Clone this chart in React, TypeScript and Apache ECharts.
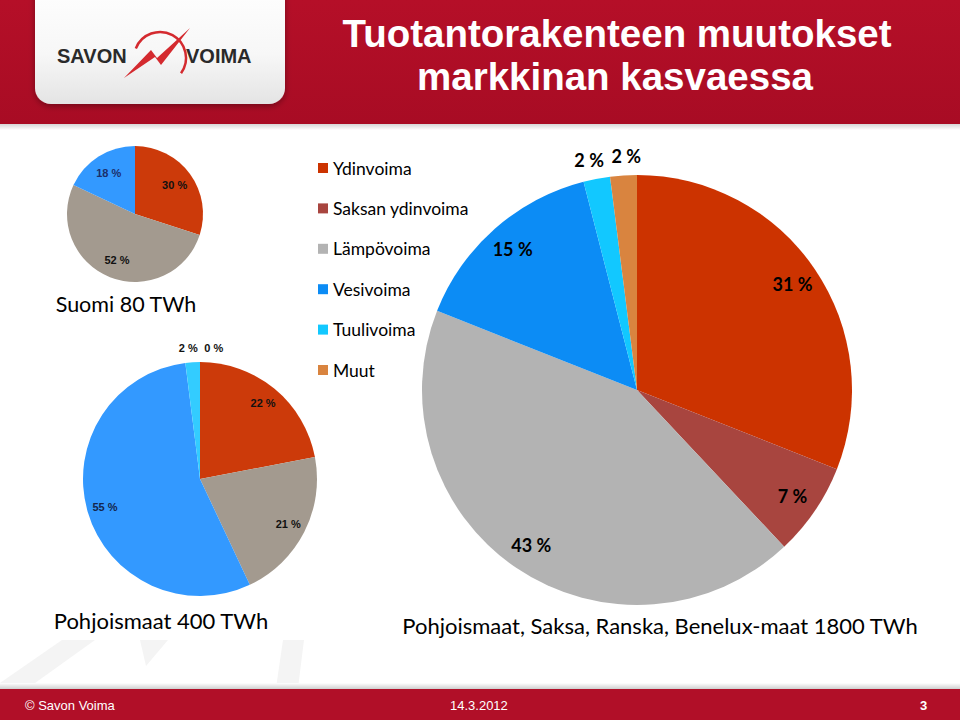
import React, { useEffect, useRef } from "react";
import * as echarts from "echarts";

// ---- data ----
const categories = ["Ydinvoima", "Saksan ydinvoima", "Lämpövoima", "Vesivoima", "Tuulivoima", "Muut"];
const bigValues = [31, 7, 43, 15, 2, 2];
const bigColors = ["#cc3300", "#a8453f", "#b3b3b3", "#0c8cf5", "#12c8ff", "#d9843f"];

const suomiCategories = ["Ydinvoima", "Lämpövoima", "Vesivoima"];
const suomiValues = [30, 52, 18];
const suomiColors = ["#cc3a0a", "#a39a8f", "#3399ff"];

const nordicCategories = ["Ydinvoima", "Lämpövoima", "Vesivoima", "Tuulivoima", "Muut"];
const nordicValues = [22, 21, 55, 2, 0];
const nordicColors = ["#cc3a0a", "#a39a8f", "#3399ff", "#33ccff", "#d9843f"];

const titleLines = ["Tuotantorakenteen muutokset", "markkinan kasvaessa"];
const pieNames = ["Suomi 80 TWh", "Pohjoismaat 400 TWh", "Pohjoismaat, Saksa, Ranska, Benelux-maat 1800 TWh"];
const footer = ["© Savon Voima", "14.3.2012", "3"];

const BODY_FONT = "Lato, 'Noto Sans', sans-serif";
const ARIAL = "'Liberation Sans', Arial, sans-serif";

function basePie(center: number[], radius: number[], names: string[], values: number[], colors: string[]) {
  return {
    type: "pie",
    center,
    radius,
    startAngle: 90,
    clockwise: true,
    silent: true,
    avoidLabelOverlap: false,
    emphasis: { disabled: true },
    label: { show: false },
    labelLine: { show: false },
    itemStyle: { borderWidth: 0 },
    data: names.map((n, i) => ({ name: n, value: values[i], itemStyle: { color: colors[i] } })),
  };
}

function labelRing(
  center: number[],
  radius: number[],
  names: string[],
  values: number[],
  shown: number[],
  textStyle: any,
  perItem: any = {},
  extra: any = {}
) {
  return {
    type: "pie",
    center,
    radius,
    startAngle: 90,
    clockwise: true,
    silent: true,
    avoidLabelOverlap: false,
    labelLayout: { hideOverlap: false },
    emphasis: { disabled: true },
    labelLine: { show: false },
    itemStyle: { color: "rgba(0,0,0,0)", borderWidth: 0 },
    label: { show: true, position: "inside", formatter: "{c} %", ...textStyle },
    data: names.map((n, i) => ({
      name: n,
      value: values[i],
      label: { show: shown.indexOf(i) >= 0, ...(perItem[i] || {}) },
    })),
    ...extra,
  };
}

export default function App() {
  const ref = useRef<HTMLDivElement>(null);
  useEffect(() => {
    document.body.style.margin = "0";
    const chart = echarts.init(ref.current!, null, { renderer: "svg" });

    const bigCenter = [637, 390];
    const suomiCenter = [135, 214];
    const nordicCenter = [200, 479];

    const bigLabel = { fontFamily: BODY_FONT, fontWeight: "bold", fontSize: 18, color: "#000" };
    const smallLabel = { fontFamily: ARIAL, fontWeight: "bold", fontSize: 11, color: "#111" };

    const watermark = "#f4f4f4";

    const option: any = {
      animation: false,
      backgroundColor: "#ffffff",
      legend: {
        orient: "vertical",
        left: 313,
        top: 154,
        itemWidth: 10,
        itemHeight: 10,
        itemGap: 22.4,
        icon: "rect",
        selectedMode: false,
        data: categories,
        textStyle: { fontFamily: BODY_FONT, fontSize: 17.5, color: "#000", lineHeight: 17 },
      },
      graphic: [
        // faint watermark
        {
          type: "polygon",
          shape: { points: [[0, 688], [28, 688], [95, 640], [62, 640], [0, 683]] },
          style: { fill: watermark },
          silent: true,
        },
        {
          type: "polygon",
          shape: { points: [[140, 640], [168, 640], [146, 666]] },
          style: { fill: watermark },
          silent: true,
        },
        {
          type: "polygon",
          shape: { points: [[283, 640], [304, 640], [298, 688], [276, 688]] },
          style: { fill: watermark },
          silent: true,
        },
        // header band
        {
          type: "rect",
          shape: { x: 0, y: 0, width: 960, height: 124 },
          style: {
            fill: new echarts.graphic.LinearGradient(0, 0, 0, 1, [
              { offset: 0, color: "#b50f28" },
              { offset: 1, color: "#a80c24" },
            ]),
          },
          silent: true,
        },
        {
          type: "rect",
          shape: { x: 0, y: 124, width: 960, height: 6 },
          style: {
            fill: new echarts.graphic.LinearGradient(0, 0, 0, 1, [
              { offset: 0, color: "#d6d6d6" },
              { offset: 1, color: "#ffffff" },
            ]),
          },
          silent: true,
        },
        // logo box
        {
          type: "rect",
          shape: { x: 35, y: -20, width: 250, height: 124, r: 16 },
          style: {
            fill: new echarts.graphic.LinearGradient(0, 0, 0, 1, [
              { offset: 0, color: "#ffffff" },
              { offset: 0.6, color: "#f7f7f7" },
              { offset: 1, color: "#e4e4e4" },
            ]),
            shadowBlur: 6,
            shadowColor: "rgba(0,0,0,0.35)",
            shadowOffsetY: 2,
          },
          silent: true,
        },
        {
          type: "text",
          x: 57,
          y: 56,
          style: {
            text: "SAVON",
            font: `bold 20px ${ARIAL}`,
            fill: "#2a2a2a",
            textVerticalAlign: "middle",
            letterSpacing: 5,
          },
          silent: true,
        },
        {
          type: "text",
          x: 186,
          y: 56,
          style: {
            text: "VOIMA",
            font: `bold 20px ${ARIAL}`,
            fill: "#2a2a2a",
            textVerticalAlign: "middle",
            letterSpacing: 4,
          },
          silent: true,
        },
        {
          type: "arc",
          shape: { cx: 160, cy: 58, r: 26, startAngle: Math.PI * 1.12, endAngle: Math.PI * 2.2, clockwise: true },
          style: { stroke: "#d42a2f", lineWidth: 2.5, fill: "none" },
          silent: true,
        },
        {
          type: "polygon",
          shape: {
            points: [
              [124, 78],
              [151, 50],
              [157, 58],
              [190, 28],
              [161, 65],
              [155, 57],
            ],
          },
          style: { fill: "#d42a2f" },
          silent: true,
        },
        // title
        {
          type: "text",
          x: 617,
          y: 33,
          style: {
            text: titleLines[0],
            font: `bold 38.5px ${ARIAL}`,
            fill: "#ffffff",
            textAlign: "center",
            textVerticalAlign: "middle",
          },
          silent: true,
        },
        {
          type: "text",
          x: 615,
          y: 76,
          style: {
            text: titleLines[1],
            font: `bold 38.5px ${ARIAL}`,
            fill: "#ffffff",
            textAlign: "center",
            textVerticalAlign: "middle",
          },
          silent: true,
        },
        // pie names
        {
          type: "text",
          x: 126,
          y: 304,
          style: { text: pieNames[0], font: `21.5px ${BODY_FONT}`, fill: "#000", textAlign: "center", textVerticalAlign: "middle" },
          silent: true,
        },
        {
          type: "text",
          x: 161,
          y: 620,
          style: { text: pieNames[1], font: `22px ${BODY_FONT}`, fill: "#000", textAlign: "center", textVerticalAlign: "middle" },
          silent: true,
        },
        {
          type: "text",
          x: 660,
          y: 625,
          style: { text: pieNames[2], font: `22px ${BODY_FONT}`, fill: "#000", textAlign: "center", textVerticalAlign: "middle" },
          silent: true,
        },
        // footer
        {
          type: "rect",
          shape: { x: 0, y: 683, width: 960, height: 6 },
          style: {
            fill: new echarts.graphic.LinearGradient(0, 0, 0, 1, [
              { offset: 0, color: "#ffffff" },
              { offset: 1, color: "#cfcfcf" },
            ]),
          },
          silent: true,
        },
        {
          type: "rect",
          shape: { x: 0, y: 689, width: 960, height: 31 },
          style: { fill: "#b10f28" },
          silent: true,
        },
        {
          type: "text",
          x: 25,
          y: 705,
          style: { text: footer[0], font: `13px ${ARIAL}`, fill: "#fff", textVerticalAlign: "middle" },
          silent: true,
        },
        {
          type: "text",
          x: 450,
          y: 705,
          style: { text: footer[1], font: `13px ${ARIAL}`, fill: "#fff", textVerticalAlign: "middle" },
          silent: true,
        },
        {
          type: "text",
          x: 920,
          y: 705,
          style: { text: footer[2], font: `bold 13px ${ARIAL}`, fill: "#fff", textVerticalAlign: "middle" },
          silent: true,
        },
      ],
      series: [
        basePie(bigCenter, [0, 215], categories, bigValues, bigColors),
        labelRing(bigCenter, [180, 190], categories, bigValues, [0, 1, 2, 3], bigLabel),
        labelRing(bigCenter, [226, 236], categories, bigValues, [4, 5], bigLabel, {
          4: { padding: [0, 8, 0, 0] },
          5: { padding: [0, 0, 0, 8] },
        }),
        basePie(suomiCenter, [0, 68], suomiCategories, suomiValues, suomiColors),
        labelRing(suomiCenter, [42, 50], suomiCategories, suomiValues, [0, 1, 2], smallLabel, {
          2: { color: "#1b2f6b" },
        }),
        basePie(nordicCenter, [0, 117], nordicCategories, nordicValues, nordicColors),
        labelRing(nordicCenter, [92, 100], nordicCategories, nordicValues, [0, 1, 2], smallLabel, {
          2: { color: "#14264d" },
        }),
        labelRing(
          nordicCenter,
          [124, 132],
          nordicCategories,
          nordicValues,
          [3, 4],
          smallLabel,
          {
            3: { padding: [0, 6, 0, 0] },
            4: { padding: [0, 0, 0, 28] },
          },
          { minAngle: 0.2 }
        ),
      ],
    };
    chart.setOption(option);
    return () => chart.dispose();
  }, []);
  return <div ref={ref} style={{ width: 960, height: 720 }} />;
}
